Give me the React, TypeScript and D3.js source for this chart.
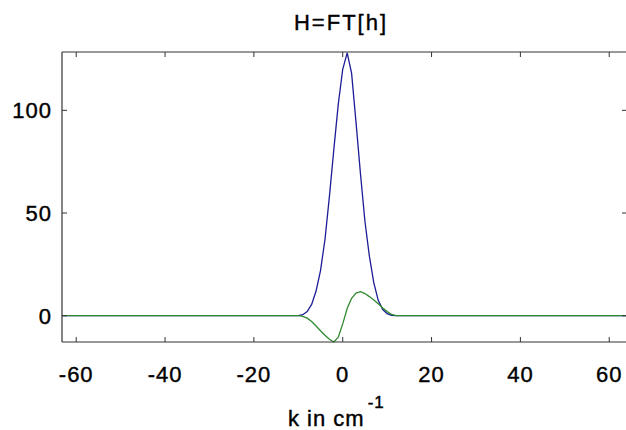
import React from 'react'
import * as d3 from 'd3'

// k axis (cm^-1) and the two traces of H = FT[h]
const kValues = [-63.2, -10, -9, -8, -7, -6, -5, -4, -3, -2, -1, 0, 1, 2, 3, 4, 5, 6, 7, 8, 9, 10, 11, 12, 64]
const blueValues = [0, 0, 0.5, 2, 5.5, 12, 22, 37, 58, 81, 103, 120, 128, 118, 94, 69, 46, 29, 16, 7.5, 3, 1, 0.2, 0, 0]
const greenValues = [0, 0, -0.3, -1.2, -2.8, -5, -7.3, -9.5, -11.5, -12.8, -10.5, -4, 3.5, 8.5, 11, 11.7, 10.8, 9.3, 7.6, 5.8, 3.8, 2, 0.6, 0, 0]

const xTicks = [-60, -40, -20, 0, 20, 40, 60]
const yTicks = [0, 50, 100]

const title = 'H=FT[h]'
const xLabel = 'k in cm'
const xLabelSup = '-1'

const width = 626
const height = 430
const left = 62
const right = 627
const top = 52
const bottom = 342

const font = '"Liberation Sans", Arial, sans-serif'

const App = () => {
  const x = d3.scaleLinear().domain([-63.2, 64]).range([left, right])
  const y = d3.scaleLinear().domain([-12.8, 128.4]).range([bottom, top])

  const line = d3
    .line<number>()
    .x((_, i) => x(kValues[i]))
    .y(d => y(d))

  const axisColor = '#333'
  const tickLen = 5
  // the reference text is a little heavier than plain Liberation Sans
  const textStyle = { letterSpacing: '1px', stroke: '#000', strokeWidth: 0.4 }

  return (
    <svg
      width={width}
      height={height}
      style={{ position: 'absolute', left: 0, top: 0, background: '#fff' }}
    >
      <rect x={0} y={0} width={width} height={height} fill="#fff" />

      <text
        x={341}
        y={30}
        textAnchor="middle"
        fontFamily={font}
        fontSize={22}
        fill="#000"
        style={{ ...textStyle, letterSpacing: '2px' }}
      >
        {title}
      </text>

      <path d={line(blueValues) || ''} fill="none" stroke="#1c1c96" strokeWidth={1.3} />
      <path d={line(greenValues) || ''} fill="none" stroke="#2f8a2f" strokeWidth={1.3} />

      {/* box */}
      <g stroke={axisColor} strokeWidth={1.2} fill="none">
        <line x1={left} x2={right} y1={top} y2={top} />
        <line x1={left} x2={right} y1={bottom} y2={bottom} />
        <line x1={left} x2={left} y1={top} y2={bottom} />
        <line x1={right} x2={right} y1={top} y2={bottom} />
      </g>

      {xTicks.map(t => (
        <g key={'x' + t}>
          <line x1={x(t)} x2={x(t)} y1={bottom} y2={bottom - tickLen} stroke={axisColor} />
          <line x1={x(t)} x2={x(t)} y1={top} y2={top + tickLen} stroke={axisColor} />
          <text
            x={x(t)}
            y={382}
            textAnchor="middle"
            fontFamily={font}
            fontSize={22}
            fill="#000"
            style={textStyle}
          >
            {t}
          </text>
        </g>
      ))}

      {yTicks.map(t => (
        <g key={'y' + t}>
          <line x1={left} x2={left + tickLen} y1={y(t)} y2={y(t)} stroke={axisColor} />
          <line x1={right} x2={right - tickLen} y1={y(t)} y2={y(t)} stroke={axisColor} />
          <text
            x={52}
            y={y(t)}
            dy="0.36em"
            textAnchor="end"
            fontFamily={font}
            fontSize={22}
            fill="#000"
            style={textStyle}
          >
            {t}
          </text>
        </g>
      ))}

      <text x={288} y={426} fontFamily={font} fontSize={22} fill="#000" style={textStyle}>
        {xLabel}
        <tspan dx={3} dy={-18} fontSize={17}>
          {xLabelSup}
        </tspan>
      </text>
    </svg>
  )
}

export default App
